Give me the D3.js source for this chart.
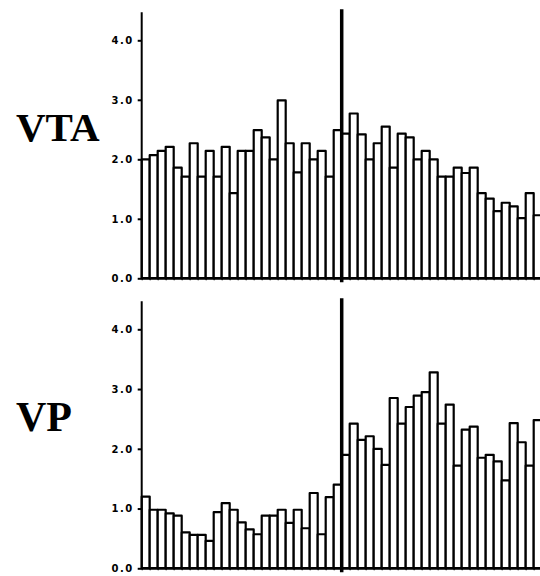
<!DOCTYPE html>
<html>
<head>
<meta charset="utf-8">
<script src="https://cdn.jsdelivr.net/npm/d3@7"></script>
<style>
  body { margin: 0; background: #fff; }
  svg { display: block; }
</style>
</head>
<body>
<div id="chart-area"></div>
<script>
//============================DATA============================
// bin heights, 50 bins per panel, event line sits after bin 25
var binIndex = d3.range(50);
var vtaValues = [2.0, 2.07, 2.14, 2.21, 1.86, 1.71, 2.27, 1.71, 2.14, 1.71,
                 2.21, 1.43, 2.14, 2.14, 2.49, 2.37, 2.0, 2.99, 2.27, 1.78,
                 2.27, 2.0, 2.14, 1.71, 2.49,
                 2.43, 2.77, 2.42, 2.0, 2.27, 2.55, 1.86, 2.43, 2.37, 2.0,
                 2.14, 2.0, 1.71, 1.71, 1.86, 1.77, 1.86, 1.43, 1.34, 1.13,
                 1.27, 1.21, 1.01, 1.43, 1.06];
var vpValues = [1.2, 0.98, 0.98, 0.92, 0.88, 0.6, 0.56, 0.56, 0.46, 0.94,
                1.09, 0.98, 0.77, 0.65, 0.57, 0.88, 0.88, 0.98, 0.76, 0.98,
                0.67, 1.26, 0.57, 1.19, 1.4,
                1.9, 2.42, 2.15, 2.21, 2.0, 1.73, 2.85, 2.42, 2.7, 2.89,
                2.95, 3.28, 2.42, 2.74, 1.72, 2.32, 2.37, 1.85, 1.9, 1.79,
                1.47, 2.43, 2.11, 1.72, 2.48];
var tickValues = [0, 1, 2, 3, 4];
var panelNames = ["VTA", "VP"];
var eventBin = 25;

//============================LAYOUT============================
var width = 540, height = 576;
var axisX = 141.7, binWidth = 8;

var svg = d3.select("#chart-area")
    .append("svg")
    .attr("width", width)
    .attr("height", height);

// shared x scale over the bins
var x = d3.scaleBand()
    .domain(binIndex)
    .range([axisX, axisX + binWidth * binIndex.length])
    .padding(0);

var xEdge = d3.scaleLinear()
    .domain([0, binIndex.length])
    .range([axisX, axisX + binWidth * binIndex.length]);

var panels = [
    { name: panelNames[0], values: vtaValues, base: 278.3, top: 40.3, labelY: 140.7, labelSize: 41 },
    { name: panelNames[1], values: vpValues, base: 568.3, top: 329.3, labelY: 430.7, labelSize: 42 }
];

panels.forEach(function(p){
    var y = d3.scaleLinear()
        .domain([0, 4])
        .range([p.base, p.top]);

    var g = svg.append("g");

    // bars
    g.selectAll("rect.bar")
        .data(p.values)
        .enter()
        .append("rect")
        .attr("class", "bar")
        .attr("x", function(d, i){ return x(i); })
        .attr("y", function(d){ return y(d); })
        .attr("width", x.bandwidth())
        .attr("height", function(d){ return y(0) - y(d); })
        .attr("fill", "#fff")
        .attr("stroke", "#000")
        .attr("stroke-width", 2.2)
        .attr("stroke-linejoin", "round");

    // small marks under the baseline
    g.append("g")
        .attr("transform", "translate(0," + y(0) + ")")
        .call(d3.axisBottom(xEdge).tickValues(d3.range(0, 51)).tickSize(2).tickFormat(""))
        .call(function(a){
            a.select(".domain").remove();
            a.selectAll("line").attr("stroke", "#000").attr("stroke-width", 1);
        });

    // baseline
    g.append("line")
        .attr("x1", axisX).attr("x2", width)
        .attr("y1", y(0)).attr("y2", y(0))
        .attr("stroke", "#000").attr("stroke-width", 2.5);

    // y axis
    g.append("g")
        .attr("transform", "translate(" + axisX + ",0)")
        .call(d3.axisLeft(y).tickValues(tickValues).tickSize(4).tickPadding(4).tickFormat(d3.format(".1f")))
        .call(function(a){
            a.select(".domain").remove();
            a.selectAll("line").attr("stroke", "#000").attr("stroke-width", 2);
            a.selectAll("text")
                .attr("font-family", "DejaVu Sans, sans-serif")
                .attr("font-weight", "bold")
                .attr("font-size", "10px")
                .attr("letter-spacing", "1.5px")
                .attr("fill", "#000");
        });

    g.append("line")
        .attr("x1", axisX).attr("x2", axisX)
        .attr("y1", y(4.47)).attr("y2", y(0) + 1)
        .attr("stroke", "#000").attr("stroke-width", 2);

    // event line
    g.append("line")
        .attr("x1", xEdge(eventBin)).attr("x2", xEdge(eventBin))
        .attr("y1", y(4.52)).attr("y2", y(0) + 4)
        .attr("stroke", "#000").attr("stroke-width", 3.5);

    // region label
    g.append("text")
        .attr("x", 16)
        .attr("y", p.labelY)
        .attr("font-family", "Liberation Serif, Times New Roman, serif")
        .attr("font-weight", "bold")
        .attr("font-size", p.labelSize + "px")
        .attr("fill", "#000")
        .text(p.name);
});
</script>
</body>
</html>
